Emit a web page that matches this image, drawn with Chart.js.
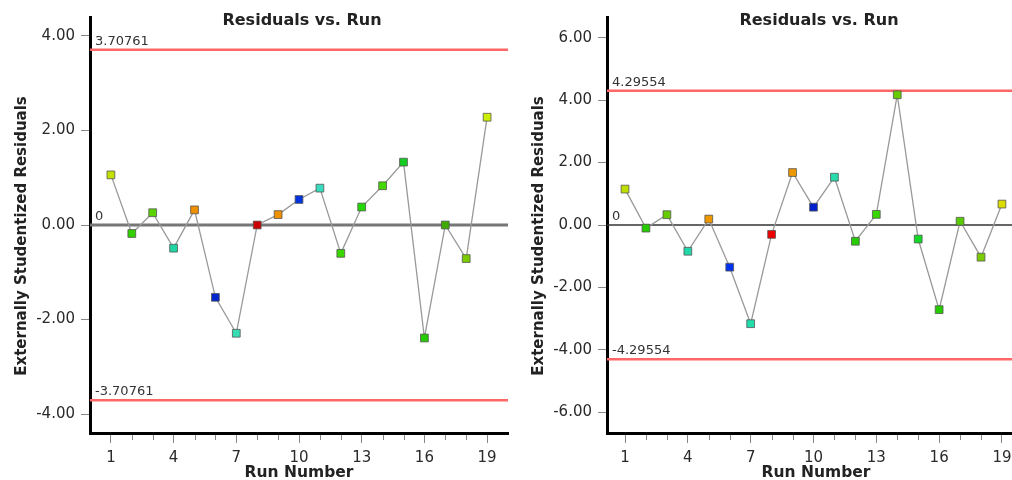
<!DOCTYPE html>
<html>
<head>
<meta charset="utf-8">
<script src="https://cdn.jsdelivr.net/npm/chart.js@4.4.1/dist/chart.umd.min.js"></script>
<style>
html, body { margin: 0; padding: 0; background: #fff; overflow: hidden; width: 1012px; height: 480px; }
.box { position: absolute; top: 0; width: 515px; height: 480px; }
</style>
</head>
<body>
<div class="box" style="left:0"><canvas id="graficoA" width="515" height="480"></canvas></div>
<div class="box" style="left:517px"><canvas id="graficoB" width="515" height="480"></canvas></div>
<script>
// Dados
const runs = [1, 2, 3, 4, 5, 6, 7, 8, 9, 10, 11, 12, 13, 14, 15, 16, 17, 18, 19];
const residuosA = [1.06, -0.18, 0.26, -0.49, 0.32, -1.53, -2.29, 0.00, 0.22, 0.54, 0.78, -0.60, 0.38, 0.83, 1.33, -2.39, 0.00, -0.71, 2.28];
const residuosB = [1.15, -0.10, 0.33, -0.84, 0.19, -1.35, -3.16, -0.30, 1.68, 0.57, 1.53, -0.52, 0.34, 4.17, -0.45, -2.71, 0.12, -1.03, 0.67];
const limiteA = 3.70761;
const limiteB = 4.29554;
const yTicksA = [-4, -2, 0, 2, 4];
const yTicksB = [-6, -4, -2, 0, 2, 4, 6];
const xTicks = [1, 4, 7, 10, 13, 16, 19];

// Cores dos pontos
const coresA = ['#c4e000', '#33d000', '#5ad400', '#1fd6a2', '#f09000', '#0026cc', '#36dcb2', '#cc0000', '#ee9000', '#0033dd',
    '#38dcbc', '#3ad800', '#22d800', '#44d800', '#14cc22', '#24cc00', '#3faa00', '#7acc00', '#ccee00'];
const coresB = ['#bede00', '#26cc00', '#66cc00', '#22d8a8', '#ee9800', '#0033ee', '#22dcaa', '#ee0000', '#ee9800', '#0022cc',
    '#26dcac', '#26cc00', '#36d800', '#66cc00', '#14d826', '#26cc00', '#58cc00', '#7acc00', '#dcdc00'];

const fonte = "'DejaVu Sans', sans-serif";
const corTexto = '#2a2a2a';

// Linhas de referência, ticks menores e títulos
const linhasRef = {
    id: 'linhasRef',
    beforeDatasetsDraw(chart, args, opts) {
        const { ctx, chartArea: a, scales: { x, y } } = chart;
        ctx.save();
        ctx.strokeStyle = '#888';
        ctx.lineWidth = 1;
        runs.forEach(r => {
            if (xTicks.includes(r)) return;
            const px = Math.round(x.getPixelForValue(r)) + 0.5;
            ctx.beginPath();
            ctx.moveTo(px, a.bottom + 2);
            ctx.lineTo(px, a.bottom + 7);
            ctx.stroke();
        });
        const linhas = [
            { v: opts.limite, txt: String(opts.limite), cor: '#ff6666', w: 2.5 },
            { v: -opts.limite, txt: String(-opts.limite), cor: '#ff6666', w: 2.5 },
            { v: 0, txt: '0', cor: opts.corZero, w: opts.larguraZero }
        ];
        ctx.font = '13px ' + fonte;
        ctx.textBaseline = 'alphabetic';
        ctx.textAlign = 'left';
        linhas.forEach(l => {
            const py = y.getPixelForValue(l.v);
            ctx.strokeStyle = l.cor;
            ctx.lineWidth = l.w;
            ctx.beginPath();
            ctx.moveTo(a.left, py);
            ctx.lineTo(a.right, py);
            ctx.stroke();
            ctx.fillStyle = '#333';
            ctx.fillText(l.txt, a.left + 5, py - 5);
        });
        ctx.restore();
    },
    afterDraw(chart) {
        const { ctx, chartArea: a } = chart;
        ctx.save();
        ctx.font = 'bold 16px ' + fonte;
        ctx.fillStyle = '#222';
        ctx.textAlign = 'center';
        ctx.textBaseline = 'middle';
        ctx.fillText('Residuals vs. Run', (a.left + a.right) / 2 + 3, 21);
        ctx.font = 'bold 15px ' + fonte;
        ctx.translate(22, 236);
        ctx.rotate(-Math.PI / 2);
        ctx.fillText('Externally Studentized Residuals', 0, 0);
        ctx.restore();
    }
};

function criarGrafico(canvasId, valores, cores, limite, yTicks, yMin, yMax, xMin, xMax, corZero, larguraZero) {
    const ctx = document.getElementById(canvasId).getContext('2d');
    return new Chart(ctx, {
        type: 'scatter',
        data: {
            datasets: [{
                data: runs.map((r, i) => ({ x: r, y: valores[i] })),
                showLine: true,
                borderColor: '#999',
                borderWidth: 1.3,
                pointStyle: 'rect',
                pointRadius: 5.5,
                pointHoverRadius: 5.5,
                pointBackgroundColor: cores,
                pointBorderColor: '#555',
                pointBorderWidth: 0.8
            }]
        },
        options: {
            responsive: false,
            animation: false,
            layout: { padding: { left: 0, right: 7, top: 17, bottom: 0 } },
            plugins: {
                legend: { display: false },
                tooltip: { enabled: false },
                linhasRef: { limite: limite, corZero: corZero, larguraZero: larguraZero }
            },
            scales: {
                x: {
                    type: 'linear',
                    min: xMin,
                    max: xMax,
                    afterBuildTicks: s => { s.ticks = xTicks.map(v => ({ value: v })); },
                    afterFit: s => { s.height = 47; },
                    ticks: { font: { family: fonte, size: 15 }, color: corTexto, padding: 6, maxRotation: 0, autoSkip: false },
                    grid: { display: true, drawOnChartArea: false, drawTicks: true, tickLength: 10, tickColor: '#888', tickWidth: 1 },
                    border: { display: true, color: '#000', width: 3 },
                    title: { display: true, text: 'Run Number', font: { family: fonte, size: 15.5, weight: 'bold' }, color: '#222', padding: { top: 0, bottom: -2 } }
                },
                y: {
                    type: 'linear',
                    min: yMin,
                    max: yMax,
                    afterBuildTicks: s => { s.ticks = yTicks.map(v => ({ value: v })); },
                    afterFit: s => { s.width = 90; },
                    ticks: { font: { family: fonte, size: 15 }, color: corTexto, padding: 6, callback: v => v.toFixed(2) },
                    grid: { display: true, drawOnChartArea: false, drawTicks: true, tickLength: 9, tickColor: '#888', tickWidth: 1 },
                    border: { display: true, color: '#000', width: 3 },
                    title: { display: false }
                }
            }
        },
        plugins: [linhasRef]
    });
}

window.onload = function() {
    criarGrafico('graficoA', residuosA, coresA, limiteA, yTicksA, -4.4, 4.4, 0, 20, '#777', 3);
    criarGrafico('graficoB', residuosB, coresB, limiteB, yTicksB, -6.66, 6.66, 0.14, 20.1, '#333', 1.5);
};
</script>
</body>
</html>
